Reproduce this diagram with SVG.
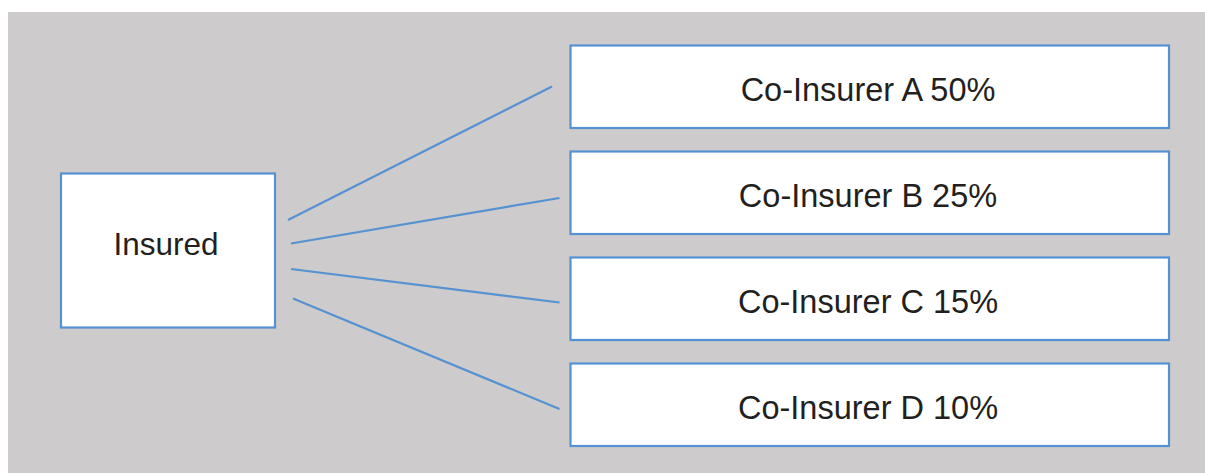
<svg xmlns="http://www.w3.org/2000/svg" width="1205" height="474" viewBox="0 0 1205 474">
<style>
.box{fill:#ffffff;stroke:#5592d2;stroke-width:2.2}
.lbl{font-family:"Liberation Sans",Arial,Helvetica,sans-serif;font-size:32.5px;fill:#231f20;text-anchor:middle}
.conn{stroke:#5592d2;stroke-width:2.2;fill:none}
</style>
<rect x="0" y="0" width="1205" height="474" fill="#ffffff"/>
<rect x="8" y="12" width="1197" height="461" fill="#cdcbcc"/>
<g id="connectors">
<line class="conn" x1="288" y1="220" x2="552" y2="86.5"/>
<line class="conn" x1="291" y1="243.5" x2="559.5" y2="198"/>
<line class="conn" x1="291" y1="269" x2="559.5" y2="302.5"/>
<line class="conn" x1="293" y1="298.5" x2="559.5" y2="409"/>
</g>
<g id="insured">
<rect class="box" x="61" y="173.5" width="214" height="154"/>
<text class="lbl" x="166" y="255" style="font-size:31.5px">Insured</text>
</g>
<g id="coinsurer-a">
<rect class="box" x="570.5" y="45.5" width="598.5" height="82.5"/>
<text class="lbl" x="868" y="100.5">Co-Insurer A 50%</text>
</g>
<g id="coinsurer-b">
<rect class="box" x="570.5" y="151.5" width="598.5" height="82.5"/>
<text class="lbl" x="868" y="206.5">Co-Insurer B 25%</text>
</g>
<g id="coinsurer-c">
<rect class="box" x="570.5" y="257.5" width="598.5" height="82.5"/>
<text class="lbl" x="868" y="312.5">Co-Insurer C 15%</text>
</g>
<g id="coinsurer-d">
<rect class="box" x="570.5" y="363.5" width="598.5" height="82.5"/>
<text class="lbl" x="868" y="418.5">Co-Insurer D 10%</text>
</g>
</svg>
